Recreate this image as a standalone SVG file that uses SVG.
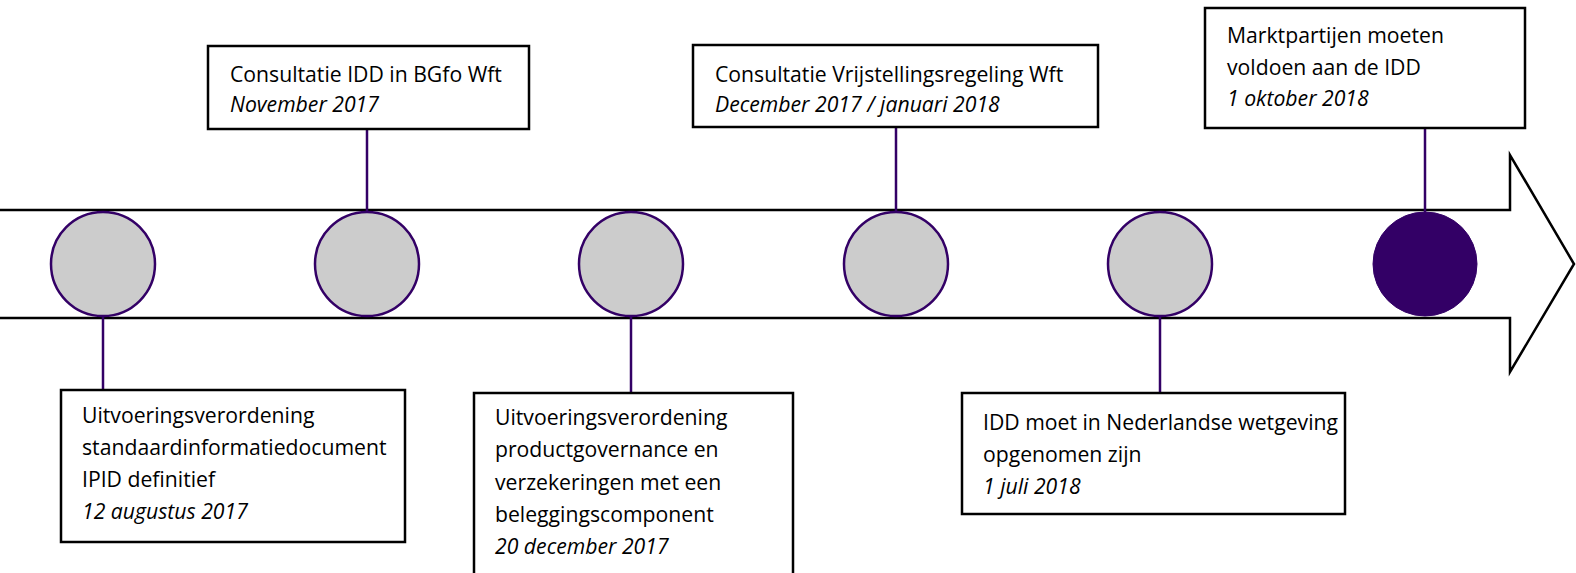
<svg xmlns="http://www.w3.org/2000/svg" width="1576" height="573" viewBox="0 0 1576 573">
<style>
.box{fill:#ffffff;stroke:#000000;stroke-width:2.5}
.dot{fill:#cccccc;stroke:#330066;stroke-width:2.5}
.dark{fill:#330066;stroke:#330066;stroke-width:1}
.con{stroke:#330066;stroke-width:2.5;fill:none}
text{font-family:"Open Sans","Liberation Sans",sans-serif;font-size:21.2px;fill:#000000}
.it{font-style:italic}
</style>
<rect width="1576" height="573" fill="#ffffff"/>
<g id="arrow">
<path d="M-5,210 H1510 V155 L1574,264 L1510,372 V318 H-5 Z" fill="#ffffff" stroke="#000000" stroke-width="2.5"/>
</g>
<g id="connectors">
<line class="con" x1="103" y1="316" x2="103" y2="390"/>
<line class="con" x1="367" y1="129" x2="367" y2="212"/>
<line class="con" x1="631" y1="316" x2="631" y2="393"/>
<line class="con" x1="896" y1="127" x2="896" y2="212"/>
<line class="con" x1="1160" y1="316" x2="1160" y2="393"/>
<line class="con" x1="1425" y1="128" x2="1425" y2="212"/>
</g>
<g id="c1"><circle class="dot" cx="103" cy="264" r="52"/></g>
<g id="c2"><circle class="dot" cx="367" cy="264" r="52"/></g>
<g id="c3"><circle class="dot" cx="631" cy="264" r="52"/></g>
<g id="c4"><circle class="dot" cx="896" cy="264" r="52"/></g>
<g id="c5"><circle class="dot" cx="1160" cy="264" r="52"/></g>
<g id="c6"><circle class="dark" cx="1425" cy="264" r="52"/></g>
<g id="boxA">
<rect class="box" x="61" y="390" width="344" height="152"/>
<text x="82" y="423">Uitvoeringsverordening</text>
<text x="82" y="455">standaardinformatiedocument</text>
<text x="82" y="487">IPID definitief</text>
<text x="82" y="519" class="it">12 augustus 2017</text>
</g>
<g id="boxB">
<rect class="box" x="208" y="46" width="321" height="83"/>
<text x="230" y="82">Consultatie IDD in BGfo Wft</text>
<text x="230" y="112" class="it">November 2017</text>
</g>
<g id="boxC">
<rect class="box" x="474" y="393" width="319" height="200"/>
<text x="495" y="425">Uitvoeringsverordening</text>
<text x="495" y="457">productgovernance en</text>
<text x="495" y="490">verzekeringen met een</text>
<text x="495" y="522">beleggingscomponent</text>
<text x="495" y="554" class="it">20 december 2017</text>
</g>
<g id="boxD">
<rect class="box" x="693" y="45" width="405" height="82"/>
<text x="715" y="82">Consultatie Vrijstellingsregeling Wft</text>
<text x="715" y="112" class="it">December 2017 / januari 2018</text>
</g>
<g id="boxE">
<rect class="box" x="962" y="393" width="383" height="121"/>
<text x="983" y="430">IDD moet in Nederlandse wetgeving</text>
<text x="983" y="462">opgenomen zijn</text>
<text x="983" y="494" class="it">1 juli 2018</text>
</g>
<g id="boxF">
<rect class="box" x="1205" y="8" width="320" height="120"/>
<text x="1227" y="43">Marktpartijen moeten</text>
<text x="1227" y="75">voldoen aan de IDD</text>
<text x="1227" y="106" class="it">1 oktober 2018</text>
</g>
</svg>
